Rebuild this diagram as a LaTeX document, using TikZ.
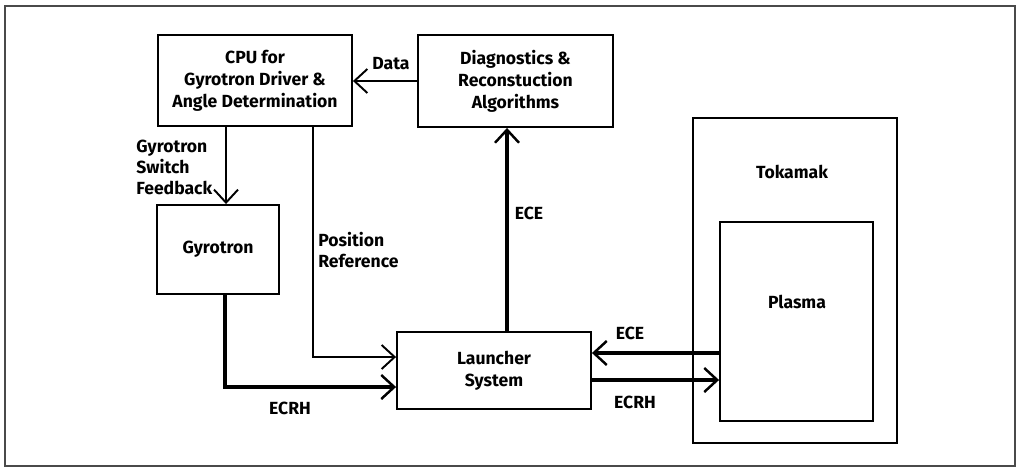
\documentclass[tikz,border=0pt]{standalone}
\usepackage{fontspec}
\setmainfont{Fira Sans}
\usetikzlibrary{arrows.meta,positioning}
\definecolor{framegray}{HTML}{4A4A4A}

\begin{document}
\begin{tikzpicture}[
  x=0.02cm, y=-0.02cm,
  blk/.style={draw, line width=1.1pt, align=center, inner sep=0pt,
              font=\fontsize{10}{12.5}\selectfont\bfseries},
  lbl/.style={align=left, inner sep=0pt, font=\fontsize{10}{12}\selectfont\bfseries},
  sig/.style={line width=1.1pt, -{Straight Barb[length=0.26cm, width=0.48cm]}},
  power/.style={line width=2.8pt, -{Straight Barb[length=0.26cm, width=0.48cm, line width'=1.4pt]}}
]
  \useasboundingbox (0,0) rectangle (1020,470);
  \draw[framegray, line width=1.1pt] (5,6) rectangle (1015,466);

  % blocks
  \node[blk, minimum width=3.88cm, minimum height=1.82cm] (cpu) at (255,80.5)
    {CPU for\\Gyrotron Driver \&\\Angle Determination};
  \node[blk, minimum width=3.9cm, minimum height=1.84cm] (diag) at (515.5,81)
    {Diagnostics \&\\Reconstuction\\Algorithms};
  \node[blk, minimum width=2.44cm, minimum height=1.78cm] (gyro) at (218,249.5) {Gyrotron};
  \node[blk, minimum width=3.88cm, minimum height=1.54cm] (launcher) at (494,370.5)
    {Launcher\\System};
  \node[blk, minimum width=4.08cm, minimum height=6.5cm] (tokamak) at (795,280.5) {};
  \node[blk, minimum width=3.06cm, minimum height=3.98cm] (plasma) at (796.5,321.5) {};
  \node[lbl] (tokamaktext) at (792,172) {Tokamak};
  \node[lbl] (plasmatext) at (797,302) {Plasma};

  % signal paths
  \draw[sig] (diag.west) -- (diag.west -| cpu.east);
  \draw[sig] ([xshift=-0.58cm]cpu.south) -- ([xshift=-0.58cm]cpu.south |- gyro.north);
  \draw[sig] ([xshift=1.16cm]cpu.south) |- ([yshift=0.27cm]launcher.west);

  % power / microwave paths
  \draw[power] ([xshift=0.14cm]gyro.south) |- ([yshift=-0.33cm]launcher.west);
  \draw[power] ([xshift=0.26cm]launcher.north) -- ([xshift=0.26cm]launcher.north |- diag.south);
  \draw[power] ([yshift=-0.63cm]plasma.west) -- ([yshift=-0.63cm]plasma.west -| launcher.east);
  \draw[power] ([yshift=-0.19cm]launcher.east) -- ([yshift=-0.19cm]launcher.east -| plasma.west);

  % labels
  \node[lbl] (datalbl) at (391,64) {Data};
  \node[lbl, anchor=west] (fblbl) at (136,167) {Gyrotron\\Switch\\Feedback};
  \node[lbl, anchor=west] (poslbl) at (318,250) {Position\\Reference};
  \node[lbl] (ecrhlbl) at (290,408) {ECRH};
  \node[lbl] (ecelbl) at (529,213) {ECE};
  \node[lbl] (eceinlbl) at (630,333) {ECE};
  \node[lbl] (ecrhoutlbl) at (635,402) {ECRH};
\end{tikzpicture}
\end{document}
